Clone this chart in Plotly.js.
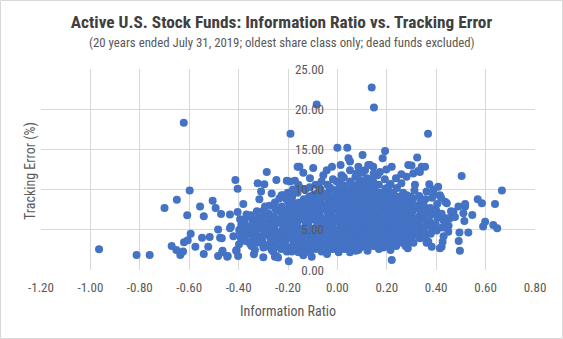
<!DOCTYPE html>
<html><head><meta charset="utf-8">
<script src="https://cdn.plot.ly/plotly-3.0.1.min.js"></script>
<style>html,body{margin:0;padding:0;background:#fff}#chart{width:563px;height:339px}</style>
</head><body><div id="chart"></div>
<script>
// Tick labels
const xTickVals = [-1.2,-1.0,-0.8,-0.6,-0.4,-0.2,0,0.2,0.4,0.6,0.8];
const xTickText = ['-1.20','-1.00','-0.80','-0.60','-0.40','-0.20','0.00','0.20','0.40','0.60','0.80'];
const yTickVals = [0,5,10,15,20,25];
const yTickText = ['0.00','5.00','10.00','15.00','20.00','25.00'];

// Far outliers
const outlierIR = [-0.965,-0.813,-0.76,-0.622,-0.19,-0.084,0.139,0.148,0.367,0.503,0.666];
const outlierTE = [2.57,1.87,1.87,18.3,16.95,20.6,22.7,20.2,16.95,11.7,9.9];

// Left, sparse side of the cloud
const leftIR = [
 -0.286,-0.598,-0.65,-0.70,-0.556,-0.608,-0.541,-0.505,-0.493,-0.413,
 -0.404,-0.381,-0.323,-0.296,-0.309,-0.316,-0.247,-0.266,-0.235,-0.205,
 -0.172,-0.18,-0.197,-0.161,-0.671,-0.652,-0.636,-0.625,-0.621,-0.606,
 -0.594,-0.575,-0.548,-0.541,-0.523,-0.517,-0.483,-0.475,-0.483,-0.466,
 -0.444,-0.431,-0.41,-0.402,-0.397,-0.373,-0.338,-0.33,-0.3,-0.247,
 -0.197,-0.185,-0.471,-0.435,-0.404,-0.367,-0.293,-0.28,-0.468,-0.465,
 -0.446,-0.408,-0.435,-0.421,-0.381,-0.367,-0.347,-0.354,-0.334,-0.34,
 -0.313,-0.293,-0.273,-0.266,-0.253,-0.26,-0.24,-0.246,-0.24,-0.26,
 -0.219,-0.226,-0.192,-0.205,-0.219];
const leftTE = [
 12.2,9.9,8.75,7.7,7.9,6.8,6.7,8.6,7.7,11.2,
 10.1,8.2,10.8,10.65,9.75,8.8,11.2,9.5,8.9,11.1,
 11.1,10.0,8.4,12.85,3.0,2.5,1.87,2.3,3.45,3.7,
 4.5,2.9,4.0,2.0,2.9,4.1,5.05,4.0,1.75,2.2,
 1.75,5.4,2.4,1.75,5.0,4.3,1.95,3.5,1.6,1.75,
 1.1,2.3,6.97,6.9,7.2,6.6,7.9,6.85,3.95,2.4,
 1.65,2.5,5.2,4.2,3.95,5.4,4.55,3.3,2.5,6.2,
 3.7,2.9,4.55,2.5,1.65,6.0,7.45,3.7,1.55,2.3,
 3.5,9.3,8.1,7.25,9.3];

// Upper band of the cloud
const upperIR = [
 0.0,0.04,0.102,-0.154,-0.138,-0.098,-0.111,-0.057,-0.043,-0.022,
 0.013,0.051,0.017,0.085,0.051,-0.003,-0.03,-0.07,-0.098,-0.138,
 0.193,0.183,0.132,0.145,0.323,0.30,0.341,0.22,0.28,0.307,
 0.327,0.237,0.162,0.112,0.372,0.408,0.415,0.436,0.045,0.078,
 0.125,0.172,0.287,0.355,0.334,0.39,0.314,0.213,0.118,0.008,
 -0.064,-0.151,-0.192,0.361,0.388,0.42,0.47,0.517,0.259,0.198];
const upperTE = [
 15.2,15.2,14.3,12.85,12.1,12.7,11.4,11.8,12.4,12.85,
 13.05,13.5,11.8,12.85,12.4,11.0,10.2,9.75,9.3,8.1,
 14.8,13.9,13.05,12.85,14.0,13.0,12.85,12.85,11.6,12.0,
 12.3,11.4,11.8,12.4,10.65,10.35,9.3,8.5,13.9,12.0,
 13.05,12.2,13.05,12.85,12.2,10.0,10.6,10.6,11.0,11.0,
 11.0,10.2,11.0,9.75,9.3,9.0,7.25,7.9,11.9,12.5];

// Lower fringe
const lowerIR = [
 -0.138,-0.104,-0.064,-0.03,0.01,0.051,0.085,0.102,-0.151,-0.111,
 0.426,0.415,0.382,0.368,0.334,0.28,0.24,0.186,0.22,0.145,
 0.129,0.159,-0.017,0.091,0.276,0.361,-0.205];
const lowerTE = [
 1.85,1.65,2.3,2.6,2.6,2.2,2.5,3.6,3.1,3.5,
 3.5,2.7,2.9,3.5,3.95,3.1,3.3,2.8,1.25,3.5,
 3.1,3.5,2.6,2.8,3.0,3.4,2.3];

// Right fringe
const rightIR = [
 0.568,0.585,0.638,0.517,0.49,0.443,0.546,0.51,0.476,0.456,
 0.514,0.598,0.59,0.631,0.647,0.53,0.494,0.449,0.491,0.496,
 0.422,0.44,0.45,0.46,0.43];
const rightTE = [
 8.8,8.3,8.2,8.2,7.9,8.3,6.85,7.05,6.6,6.45,
 6.1,6.0,5.4,5.6,5.2,4.65,4.65,4.75,3.6,2.4,
 2.9,6.45,5.5,7.3,4.2];

// Dense core of the cloud
const coreIR = [
 -0.398,-0.391,-0.396,-0.389,-0.394,
 -0.372,-0.377,-0.369,-0.375,-0.368,
 -0.348,-0.344,-0.351,-0.346,-0.342,-0.350,
 -0.325,-0.321,-0.328,-0.323,-0.319,-0.326,
 -0.300,-0.304,-0.297,-0.302,-0.298,-0.305,-0.299,
 -0.276,-0.272,-0.279,-0.274,-0.270,-0.278,-0.275,
 -0.252,-0.256,-0.249,-0.254,-0.250,-0.257,-0.251,-0.253,
 -0.228,-0.224,-0.231,-0.226,-0.222,-0.230,-0.227,-0.225,
 -0.205,-0.209,-0.202,-0.207,-0.203,-0.210,-0.204,-0.206,-0.201,
 -0.182,-0.178,-0.185,-0.180,-0.176,-0.184,-0.181,-0.179,-0.183,
 -0.158,-0.162,-0.155,-0.160,-0.156,-0.163,-0.157,-0.159,-0.154,-0.161,-0.158,
 -0.135,-0.131,-0.138,-0.133,-0.129,-0.137,-0.134,-0.132,-0.136,-0.130,
 -0.112,-0.116,-0.109,-0.114,-0.110,-0.117,-0.111,-0.113,-0.108,-0.115,-0.112,
 -0.088,-0.084,-0.091,-0.086,-0.082,-0.090,-0.087,-0.085,-0.089,-0.083,-0.088,
 -0.065,-0.069,-0.062,-0.067,-0.063,-0.070,-0.064,-0.066,-0.061,-0.068,
 -0.042,-0.038,-0.045,-0.040,-0.036,-0.044,-0.041,-0.039,-0.043,-0.037,-0.042,-0.040,
 -0.018,-0.022,-0.015,-0.020,-0.016,-0.023,-0.017,-0.019,-0.014,-0.021,-0.018,
 0.005,0.009,0.002,0.007,0.011,0.003,0.006,0.008,0.004,0.010,0.005,
 0.028,0.024,0.031,0.026,0.030,0.023,0.029,0.027,0.032,0.025,0.028,0.026,
 0.052,0.056,0.049,0.054,0.050,0.057,0.051,0.053,0.048,0.055,0.052,
 0.075,0.071,0.078,0.073,0.077,0.070,0.076,0.074,0.079,0.072,0.075,0.073,
 0.098,0.102,0.095,0.100,0.096,0.103,0.097,0.099,0.094,0.101,0.098,0.100,
 0.122,0.118,0.125,0.120,0.124,0.117,0.123,0.121,0.126,0.119,0.122,0.120,
 0.145,0.149,0.142,0.147,0.143,0.150,0.144,0.146,0.141,0.148,0.145,0.147,
 0.168,0.164,0.171,0.166,0.170,0.163,0.169,0.167,0.172,0.165,0.168,
 0.192,0.196,0.189,0.194,0.190,0.197,0.191,0.193,0.188,0.195,0.192,
 0.215,0.211,0.218,0.213,0.217,0.210,0.216,0.214,0.219,0.212,0.215,
 0.238,0.242,0.235,0.240,0.236,0.243,0.237,0.239,0.234,0.241,
 0.262,0.258,0.265,0.260,0.264,0.257,0.263,0.261,0.266,0.259,
 0.285,0.289,0.282,0.287,0.283,0.290,0.284,0.286,0.281,
 0.308,0.304,0.311,0.306,0.310,0.303,0.309,0.307,0.312,
 0.332,0.336,0.329,0.334,0.330,0.337,0.331,
 0.355,0.351,0.358,0.353,0.357,0.350,0.356,
 0.378,0.382,0.375,0.380,0.376,0.383,
 0.402,0.398,0.405,0.400,0.404,
 0.425,0.429,0.422];
const coreTE = [
 3.2,4.0,4.8,5.6,6.3,
 3.6,4.4,5.1,5.9,6.9,
 3.0,3.8,4.6,5.3,6.0,6.8,
 3.4,4.2,4.9,5.7,6.5,7.3,
 2.8,3.6,4.4,5.1,5.9,6.6,7.4,
 3.2,4.0,4.8,5.5,6.3,7.0,8.0,
 2.9,3.7,4.4,5.2,5.9,6.7,7.6,8.4,
 2.6,3.3,4.1,4.8,5.6,6.3,7.1,7.9,
 2.9,3.7,4.4,5.2,5.9,6.7,7.5,8.8,9.6,
 2.6,3.3,4.1,4.8,5.6,6.3,7.1,7.9,9.1,
 2.2,2.9,3.7,4.4,5.2,5.9,6.7,7.5,8.4,9.6,10.6,
 2.6,3.3,4.1,4.8,5.6,6.3,7.1,7.9,8.8,10.0,
 2.2,2.9,3.7,4.4,5.2,5.9,6.7,7.5,8.3,9.1,10.3,
 2.6,3.3,4.1,4.8,5.6,6.3,7.1,7.9,8.7,9.5,10.6,
 2.9,3.7,4.4,5.2,5.9,6.7,7.5,8.3,9.1,10.0,
 2.0,2.6,3.3,4.1,4.8,5.6,6.3,7.1,7.9,8.7,9.5,10.6,
 2.9,3.7,4.4,5.2,5.9,6.7,7.5,8.3,9.1,10.0,11.3,
 2.2,3.0,3.8,4.5,5.3,6.0,6.8,7.6,8.4,9.2,10.1,
 2.6,3.4,4.1,4.9,5.6,6.4,7.2,8.0,8.8,9.6,10.5,11.5,
 3.0,3.8,4.5,5.3,6.0,6.8,7.6,8.4,9.2,10.1,11.0,
 2.4,3.2,4.1,4.9,5.6,6.4,7.2,8.0,8.8,9.6,10.5,11.6,
 2.9,3.8,4.5,5.3,6.0,6.8,7.6,8.4,9.2,10.1,11.0,12.1,
 2.4,3.3,4.1,4.9,5.6,6.4,7.2,8.0,8.8,9.6,10.5,11.4,
 3.0,3.8,4.5,5.3,6.0,6.8,7.6,8.4,9.2,10.1,11.0,12.0,
 2.6,3.4,4.1,4.9,5.6,6.4,7.2,8.0,8.8,9.6,10.6,
 3.1,3.8,4.5,5.3,6.0,6.8,7.6,8.4,9.2,10.1,11.3,
 2.5,3.4,4.1,4.9,5.6,6.4,7.2,8.0,8.8,9.7,10.7,
 3.0,3.8,4.5,5.3,6.0,6.8,7.6,8.4,9.2,10.2,
 3.4,4.1,4.9,5.6,6.4,7.2,8.0,8.8,9.6,10.8,
 2.7,3.8,4.5,5.3,6.0,6.8,7.6,8.4,9.3,
 3.4,4.2,4.9,5.6,6.4,7.2,8.0,8.9,9.9,
 4.5,5.3,6.0,6.8,7.6,8.4,9.2,
 4.1,4.9,5.6,6.4,7.2,8.0,8.8,
 4.5,5.3,6.0,6.9,7.7,9.0,
 4.9,5.7,6.5,7.4,8.2,
 5.3,6.2,7.0];

// Extra funds filling the densest part of the core
const coreFillIR = [
 -0.147,-0.150,-0.144,-0.148,
 -0.124,-0.121,-0.127,-0.123,-0.125,
 -0.100,-0.103,-0.097,-0.101,-0.099,
 -0.076,-0.079,-0.073,-0.077,-0.075,
 -0.053,-0.050,-0.056,-0.052,-0.054,
 -0.030,-0.033,-0.027,-0.031,-0.029,-0.032,
 -0.006,-0.003,-0.009,-0.005,-0.007,
 0.016,0.013,0.019,0.015,0.017,0.014,
 0.040,0.043,0.037,0.041,0.039,
 0.063,0.060,0.066,0.062,0.064,0.061,
 0.087,0.090,0.084,0.088,0.086,0.089,
 0.110,0.107,0.113,0.109,0.111,0.108,
 0.133,0.136,0.130,0.134,0.132,0.135,
 0.157,0.154,0.160,0.156,0.158,0.155,
 0.180,0.183,0.177,0.181,0.179,
 0.203,0.200,0.206,0.202,0.204,0.201,
 0.227,0.230,0.224,0.228,0.226,
 0.250,0.247,0.253,0.249,0.251,
 0.273,0.276,0.270,0.274,
 0.296,0.293,0.299,0.295,
 0.320,0.323,0.317,
 -0.240,-0.243,
 -0.264,-0.261,-0.267,
 -0.288,-0.285,
 -0.216,-0.219,-0.213,
 -0.193,-0.190,-0.196,
 -0.170,-0.173,-0.167,-0.171];
const coreFillTE = [
 3.3,4.8,6.3,7.9,
 3.0,4.5,6.0,7.5,8.6,
 3.3,4.8,6.3,7.9,9.3,
 3.0,4.5,6.0,7.5,8.9,
 3.3,4.8,6.3,7.9,9.3,
 3.0,4.5,6.0,7.5,8.9,10.3,
 3.4,4.9,6.4,8.0,9.5,
 3.0,4.5,6.0,7.6,9.1,10.6,
 3.4,4.9,6.4,8.0,9.6,
 3.0,4.5,6.0,7.6,9.1,10.6,
 3.4,4.9,6.4,8.0,9.6,11.2,
 3.0,4.5,6.0,7.6,9.1,10.6,
 3.4,4.9,6.4,8.0,9.6,11.2,
 3.0,4.5,6.0,7.6,9.1,10.6,
 3.4,4.9,6.4,8.0,9.6,
 3.0,4.5,6.0,7.6,9.1,10.2,
 3.4,4.9,6.4,8.0,9.6,
 3.8,4.5,6.0,7.6,9.1,
 4.1,5.6,7.2,8.8,
 4.5,6.0,7.6,9.1,
 4.9,6.4,8.0,
 4.4,5.9,
 3.6,5.1,6.6,
 4.4,5.9,
 3.6,5.1,6.6,
 4.0,5.5,7.0,
 3.6,5.1,6.7,8.3];

const informationRatio = [].concat(outlierIR, leftIR, upperIR, lowerIR, rightIR, coreIR, coreFillIR);
const trackingError = [].concat(outlierTE, leftTE, upperTE, lowerTE, rightTE, coreTE, coreFillTE);

const FONT = '"Roboto Condensed", "Liberation Sans Narrow", "Roboto", "Liberation Sans", sans-serif';
const W = 563, H = 339, ML = 41, MR = 28, MT = 69, MB = 69;
const PW = W - ML - MR, PH = H - MT - MB;

const trace = {
  type: 'scatter', mode: 'markers',
  x: informationRatio, y: trackingError,
  marker: {color: '#4472C4', size: 8, line: {width: 0}},
  hoverinfo: 'skip'
};

const layout = {
  width: W, height: H,
  margin: {l: ML, r: MR, t: MT, b: MB, pad: 0},
  paper_bgcolor: '#ffffff', plot_bgcolor: '#ffffff',
  showlegend: false,
  font: {family: FONT, color: '#595959', size: 13},
  title: {
    text: '<b>Active U.S. Stock Funds: Information Ratio vs. Tracking Error</b>',
    font: {family: FONT, size: 17.3, color: '#404040'},
    x: 0.5, xref: 'container', xanchor: 'center',
    y: 1 - 21.5 / H, yref: 'container', yanchor: 'middle'
  },
  xaxis: {
    range: [-1.2, 0.8], tickmode: 'array', tickvals: xTickVals, ticktext: xTickText,
    showgrid: true, gridcolor: '#d9d9d9', gridwidth: 1, zeroline: false, showline: false,
    ticks: '', ticklabelstandoff: 8,
    tickfont: {family: FONT, size: 13, color: '#595959'},
    title: {text: 'Information Ratio', font: {family: FONT, size: 14, color: '#595959'}, standoff: 12},
    fixedrange: true
  },
  yaxis: {
    range: [0, 25], tickmode: 'array', tickvals: yTickVals, ticktext: yTickText,
    anchor: 'free', position: (338 - ML) / PW,
    showgrid: true, gridcolor: '#d9d9d9', gridwidth: 1, zeroline: false, showline: false,
    ticks: '', ticklabelstandoff: 14,
    tickfont: {family: FONT, size: 13, color: '#595959'},
    fixedrange: true
  },
  annotations: [
    {text: '(20 years ended July 31, 2019; oldest share class only; dead funds excluded)',
     xref: 'paper', yref: 'paper', x: (282 - ML) / PW, y: (MT + PH - 43) / PH,
     xanchor: 'center', yanchor: 'middle', showarrow: false,
     font: {family: FONT, size: 12.8, color: '#595959'}},
    {text: 'Tracking Error (%)', textangle: -90,
     xref: 'paper', yref: 'paper', x: (30 - ML) / PW, y: (MT + PH - 171) / PH,
     xanchor: 'center', yanchor: 'middle', showarrow: false,
     font: {family: FONT, size: 14, color: '#595959'}}
  ],
  shapes: [
    {type: 'rect', xref: 'paper', yref: 'paper',
     x0: (0.5 - ML) / PW, x1: (W - 0.5 - ML) / PW,
     y0: (MT + PH - (H - 0.5)) / PH, y1: (MT + PH - 0.5) / PH,
     line: {color: '#d9d9d9', width: 1}, fillcolor: 'rgba(0,0,0,0)', layer: 'below'}
  ]
};

Plotly.newPlot('chart', [trace], layout, {displayModeBar: false, staticPlot: true});
</script>
</body></html>
